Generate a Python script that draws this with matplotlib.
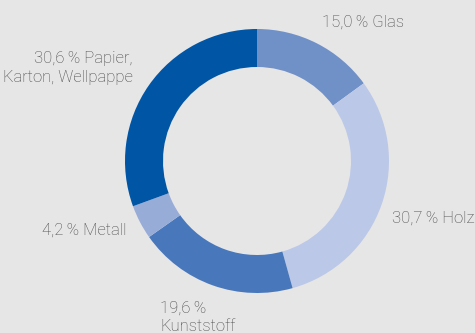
import matplotlib

matplotlib.use("Agg")
import matplotlib.pyplot as plt

# Anteile der Verpackungsmaterialien (%)
materials = ["Glas", "Holz", "Kunststoff", "Metall", "Papier,\nKarton, Wellpappe"]
shares = [15.0, 30.7, 19.6, 4.2, 30.6]
colors = ["#7090c8", "#bcc8e8", "#4878bb", "#98acd8", "#0055a5"]

BG = "#e6e6e6"
TEXT = "#474747"
W, H = 475, 333

plt.rcParams["font.family"] = ["Roboto", "DejaVu Sans"]

fig = plt.figure(figsize=(W / 100, H / 100), dpi=100, facecolor=BG)
ax = fig.add_axes([0, 0, 1, 1])
ax.set_facecolor(BG)
ax.axis("off")

ax.pie(shares, colors=colors, startangle=90, counterclock=False,
       center=(257, H - 161), radius=132,
       wedgeprops=dict(width=38, linewidth=0))
ax.set_xlim(0, W)
ax.set_ylim(0, H)
ax.set_aspect("auto")


def pct(v):
    return f"{v:.1f}".replace(".", ",") + "\u2009%"


# Beschriftungen: (x, y in Pixel von oben, Ausrichtung)
label_pos = [
    (363, 22, "center"),
    (392, 218, "left"),
    (160, 317, "left"),
    (127, 230, "right"),
    (133, 68, "right"),
]
for name, v, (x, y, ha) in zip(materials, shares, label_pos):
    if name == "Kunststoff":
        txt = f"{pct(v)}\n{name}"
    elif "\n" in name:
        first, rest = name.split("\n", 1)
        txt = f"{pct(v)} {first}\n{rest}"
    else:
        txt = f"{pct(v)} {name}"
    ax.text(x, H - y, txt, ha=ha, va="center", fontsize=12, color=TEXT,
            fontweight="light", linespacing=1.3, multialignment=ha)

fig.savefig("out.png", dpi=100, facecolor=BG)
